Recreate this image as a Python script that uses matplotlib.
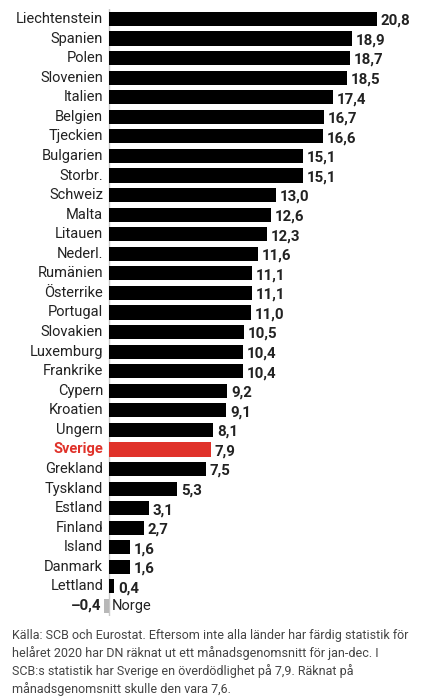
import matplotlib.pyplot as plt

countries = ["Liechtenstein", "Spanien", "Polen", "Slovenien", "Italien", "Belgien",
             "Tjeckien", "Bulgarien", "Storbr.", "Schweiz", "Malta", "Litauen",
             "Nederl.", "Rumänien", "Österrike", "Portugal", "Slovakien", "Luxemburg",
             "Frankrike", "Cypern", "Kroatien", "Ungern", "Sverige", "Grekland",
             "Tyskland", "Estland", "Finland", "Island", "Danmark", "Lettland", "Norge"]
values = [20.8, 18.9, 18.7, 18.5, 17.4, 16.7, 16.6, 15.1, 15.1, 13.0, 12.6, 12.3,
          11.6, 11.1, 11.1, 11.0, 10.5, 10.4, 10.4, 9.2, 9.1, 8.1, 7.9, 7.5,
          5.3, 3.1, 2.7, 1.6, 1.6, 0.4, -0.4]
highlight = "Sverige"
footnote = ("Källa: SCB och Eurostat. Eftersom inte alla länder har färdig statistik för\n"
            "helåret 2020 har DN räknat ut ett månadsgenomsnitt för jan-dec. I\n"
            "SCB:s statistik har Sverige en överdödlighet på 7,9. Räknat på\n"
            "månadsgenomsnitt skulle den vara 7,6.")

plt.rcParams["font.family"] = ["Roboto", "DejaVu Sans"]

RED = "#e0322a"
GRAY = "#b8b8b8"

fig = plt.figure(figsize=(4.31, 7), dpi=100)
ax = fig.add_axes([100 / 431, 0.1203, 331 / 431, 0.8666])

ypos = list(range(len(countries)))
colors = []
for c, v in zip(countries, values):
    if c == highlight:
        colors.append(RED)
    elif v < 0:
        colors.append(GRAY)
    else:
        colors.append("black")

ax.barh(ypos, values, height=0.72, color=colors)
ax.axvline(0, color="#c8c8c8", lw=1, zorder=0)

ax.set_xlim(-0.7, 25.02)
ax.set_ylim(len(countries) - 0.5, -0.5)
ax.axis("off")

for y, c, v in zip(ypos, countries, values):
    lab = f"{v:.1f}".replace(".", ",")
    if v >= 0:
        is_hl = c == highlight
        ax.text(-0.45, y, c, ha="right", va="center", fontsize=10.5,
                color=RED if is_hl else "#222222",
                fontweight="bold" if is_hl else "normal")
        ax.text(v + 0.3, y + 0.1, lab, ha="left", va="center", fontsize=10.8,
                fontweight="bold", color="#222222")
    else:
        ax.text(-0.6, y, lab.replace("-", "–"), ha="right", va="center",
                fontsize=10.8, fontweight="bold", color="#222222")
        ax.text(0.25, y, c, ha="left", va="center", fontsize=10.5, color="#222222")

fig.text(12 / 431, 1 - 629 / 700, footnote, ha="left", va="top", fontsize=9,
         color="#444444", linespacing=1.38)

fig.savefig("out.png", dpi=100, facecolor="white")
